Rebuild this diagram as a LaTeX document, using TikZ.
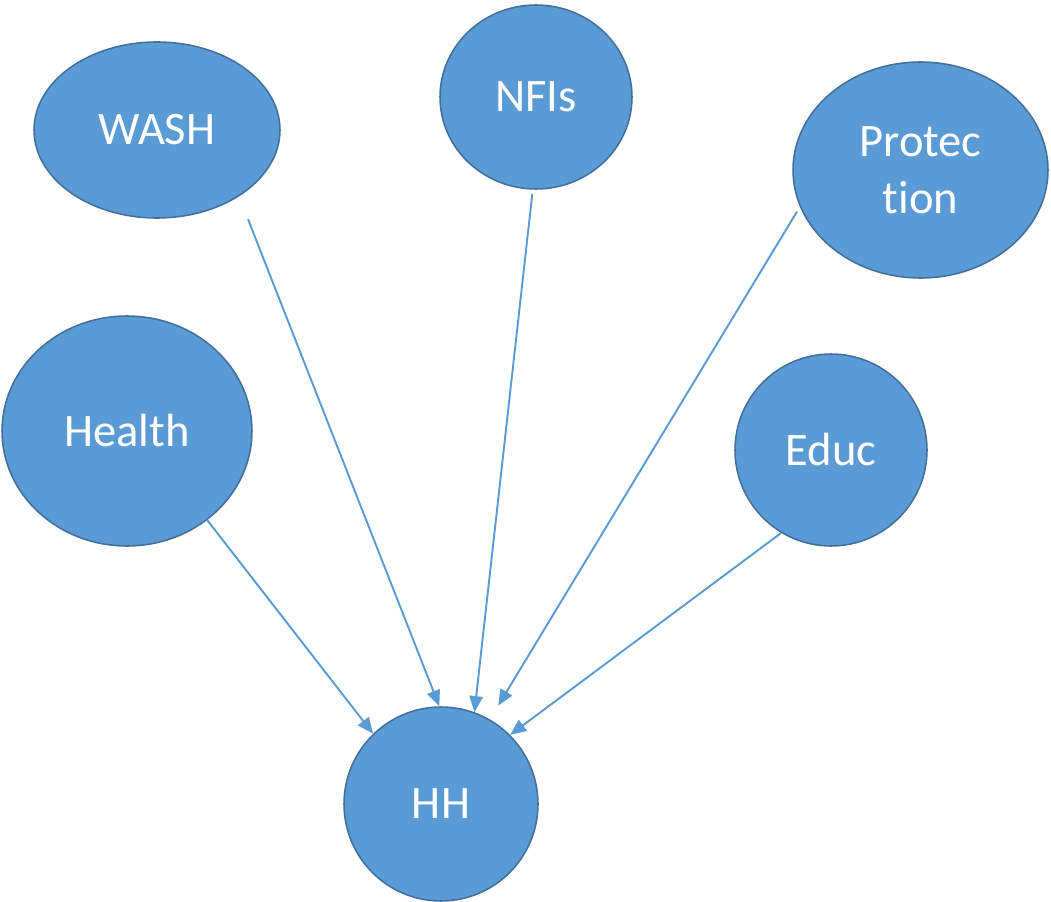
\documentclass[tikz,border=0pt]{standalone}
\usepackage{fontspec}
\setmainfont[Ligatures=NoCommon]{Carlito}
\usetikzlibrary{shapes.geometric,arrows.meta}
\definecolor{bubblefill}{HTML}{5B9BD5}
\definecolor{bubbleedge}{HTML}{41719C}
\definecolor{linkblue}{HTML}{5B9BD5}
\begin{document}
\begin{tikzpicture}[x=0.02cm,y=-0.02cm,
  bubble/.style={ellipse, draw=bubbleedge, fill=bubblefill, line width=0.9pt,
    inner sep=0pt, text=white, align=center,
    font=\fontsize{26.5pt}{32.4pt}\selectfont},
  link/.style={draw=linkblue, line width=1.1pt,
    -{Triangle[length=0.32cm,width=0.27cm]}}]
\useasboundingbox (0,0) rectangle (1051,902);

% sectors feeding the household
\node[bubble, minimum width=4.92cm, minimum height=3.52cm] (wash) at (157,130) {WASH};
\node[bubble, minimum width=3.84cm, minimum height=3.68cm] (nfis) at (536,97) {NFIs};
\node[bubble, minimum width=5.1cm, minimum height=4.32cm] (prot) at (920.5,170) {Protec\\tion};
\node[bubble, minimum width=5cm, minimum height=4.6cm] (health) at (127,431) {Health};
\node[bubble, minimum width=3.84cm, minimum height=3.84cm] (educ) at (831,450) {Educ};
\node[bubble, minimum width=3.88cm, minimum height=3.88cm] (hh) at (441,804) {HH};

% flows into HH
\draw[link, shorten <=0.49cm] (wash.-39.3) -- (hh.91);
\draw[link, shorten <=0.08cm] (nfis.-92.4) -- (hh.70);
\draw[link, shorten <=0.11cm, shorten >=0.32cm] (prot.197) -- (hh.60.3);
\draw[link] (health.-48) -- (hh.134);
\draw[link] (educ.-121) -- (hh.45);
\end{tikzpicture}
\end{document}
